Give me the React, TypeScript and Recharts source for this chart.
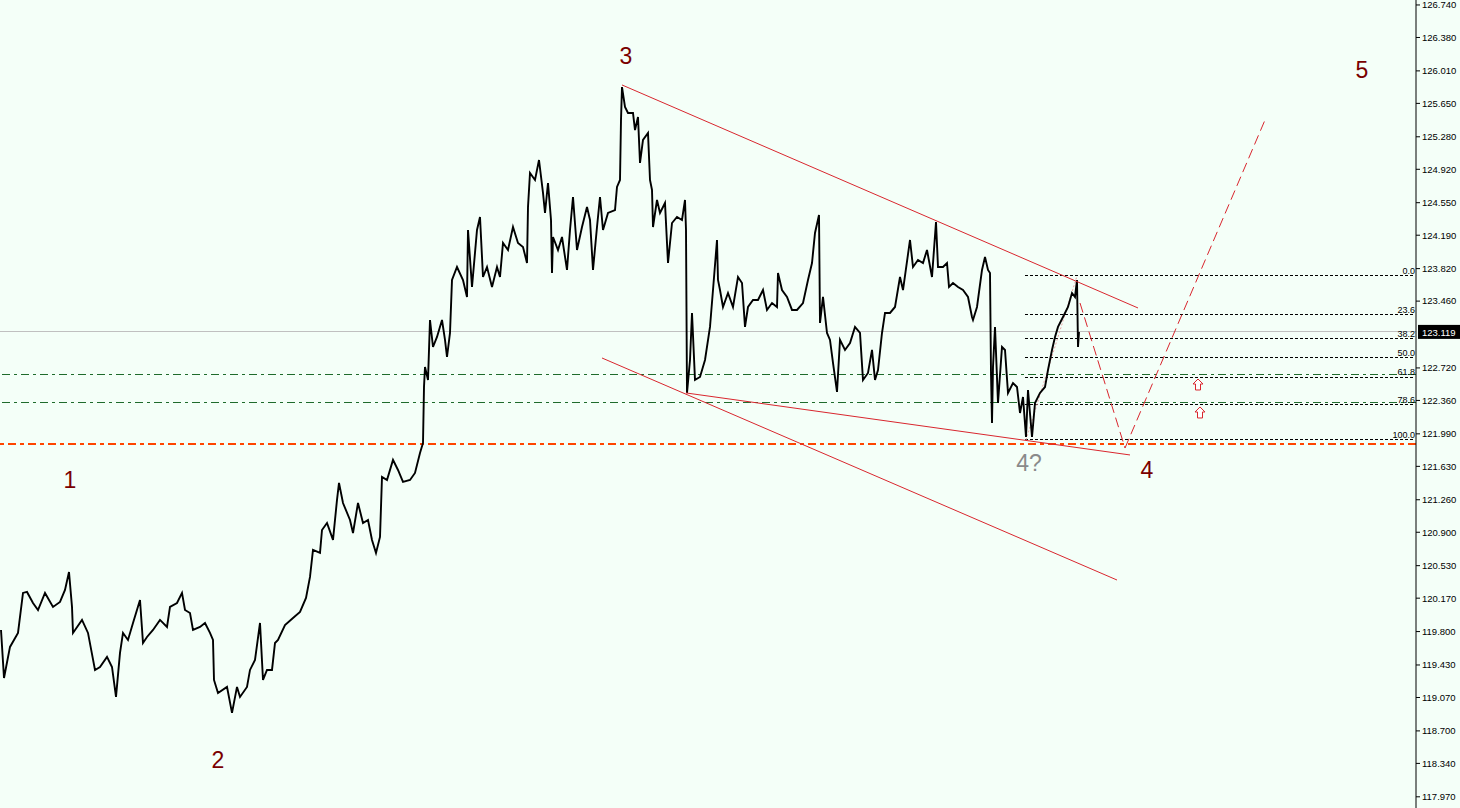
import React from "react";
import { ComposedChart, Line, XAxis, YAxis, ReferenceLine, ReferenceDot } from "recharts";

// [bar, price]
const priceSeries: [number, number][] = [
  [1, 119.818], [4, 119.286], [10, 119.63], [18, 119.785], [23, 120.228], [27, 120.239], [33, 120.117], [38, 120.039],
  [45, 120.228], [53, 120.073], [60, 120.128], [65, 120.261], [69, 120.46], [72, 120.073], [73, 119.785], [82, 119.929],
  [88, 119.785], [95, 119.375], [100, 119.408], [107, 119.519], [112, 119.408], [116, 119.076], [120, 119.563], [123, 119.785],
  [128, 119.707], [133, 119.895], [140, 120.15], [143, 119.674], [147, 119.74], [153, 119.818], [160, 119.929], [167, 119.851],
  [170, 120.073], [177, 120.117], [182, 120.228], [185, 120.039], [190, 120.006], [193, 119.818], [200, 119.851], [205, 119.895],
  [210, 119.785], [213, 119.707], [214, 119.264], [218, 119.12], [227, 119.187], [232, 118.899], [237, 119.187], [240, 119.076],
  [247, 119.187], [250, 119.375], [255, 119.486], [260, 119.895], [263, 119.264], [267, 119.375], [272, 119.375], [275, 119.674],
  [278, 119.707], [285, 119.873], [293, 119.951], [300, 120.017], [306, 120.172], [310, 120.405], [313, 120.704], [320, 120.671],
  [322, 120.925], [327, 121.003], [333, 120.815], [337, 121.258], [339, 121.446], [343, 121.224], [350, 121.036], [353, 120.892],
  [358, 121.224], [363, 121.003], [368, 121.036], [372, 120.815], [376, 120.671], [380, 120.848], [382, 121.512], [387, 121.479],
  [393, 121.701], [398, 121.59], [403, 121.457], [410, 121.479], [415, 121.557], [420, 121.778], [423, 121.889], [424, 122.509],
  [425, 122.731], [428, 122.587], [430, 123.251], [433, 122.952], [437, 123.063], [442, 123.251], [445, 123.03], [447, 122.841],
  [450, 123.107], [452, 123.694], [457, 123.838], [463, 123.694], [467, 123.506], [468, 124.248], [472, 123.617], [477, 124.248],
  [480, 124.392], [483, 123.727], [487, 123.838], [492, 123.617], [497, 123.838], [500, 123.727], [503, 124.104], [508, 124.026],
  [513, 124.281], [518, 124.104], [523, 124.06], [527, 123.882], [528, 124.503], [530, 124.879], [535, 124.802], [539, 125.023],
  [543, 124.658], [545, 124.436], [548, 124.768], [551, 124.359], [552, 123.772], [553, 124.17], [558, 124.026], [562, 124.17],
  [567, 123.805], [570, 124.248], [573, 124.613], [577, 124.026], [582, 124.281], [587, 124.503], [590, 124.359], [593, 123.805],
  [597, 124.281], [600, 124.613], [603, 124.248], [608, 124.436], [615, 124.469], [617, 124.724], [620, 124.802], [621, 125.466],
  [622, 125.831], [625, 125.61], [628, 125.544], [633, 125.544], [635, 125.355], [638, 125.499], [640, 124.99], [643, 125.245],
  [648, 125.322], [650, 124.802], [652, 124.691], [653, 124.281], [657, 124.58], [660, 124.436], [665, 124.547], [668, 123.882],
  [672, 124.325], [677, 124.392], [682, 124.359], [685, 124.58], [686, 124.248], [687, 122.443], [690, 122.808], [692, 123.329],
  [695, 122.587], [700, 122.62], [705, 122.808], [710, 123.174], [713, 123.583], [717, 124.137], [718, 123.694], [720, 123.583],
  [723, 123.395], [728, 123.55], [733, 123.395], [738, 123.727], [742, 123.661], [745, 123.174], [748, 123.395], [753, 123.473],
  [758, 123.473], [763, 123.583], [767, 123.362], [772, 123.439], [777, 123.395], [778, 123.772], [782, 123.583], [787, 123.506],
  [792, 123.362], [797, 123.362], [803, 123.439], [808, 123.694], [812, 123.882], [815, 124.215], [819, 124.414], [820, 123.218],
  [823, 123.506], [827, 123.107], [830, 123.03], [833, 122.775], [837, 122.454], [840, 123.03], [845, 122.919], [850, 122.996],
  [855, 123.174], [860, 123.107], [863, 122.587], [868, 122.664], [872, 122.919], [875, 122.587], [878, 122.697], [882, 123.107],
  [885, 123.329], [890, 123.329], [895, 123.395], [900, 123.727], [903, 123.583], [910, 124.137], [913, 123.838], [918, 123.916],
  [923, 123.882], [927, 124.026], [932, 123.727], [936, 124.336], [938, 123.838], [943, 123.838], [947, 123.882], [949, 123.617],
  [953, 123.661], [958, 123.617], [963, 123.583], [968, 123.506], [972, 123.284], [973, 123.251], [977, 123.395], [982, 123.805],
  [985, 123.949], [988, 123.805], [990, 123.772], [991, 122.664], [992, 122.11], [993, 122.731], [995, 123.174], [998, 122.332],
  [1002, 122.952], [1005, 122.919], [1008, 122.443], [1013, 122.553], [1017, 122.509], [1020, 122.221], [1023, 122.398], [1026, 121.955],
  [1028, 122.476], [1032, 121.955], [1035, 122.332], [1040, 122.443], [1045, 122.509], [1048, 122.697], [1052, 122.919], [1055, 123.063],
  [1058, 123.174], [1063, 123.284], [1068, 123.395], [1072, 123.55], [1075, 123.506], [1077, 123.694], [1078, 122.952], [1079, 123.119],
];

const yTicks = [
  126.74, 126.38, 126.01, 125.65, 125.28, 124.92, 124.55, 124.19, 123.82, 123.46, 122.72, 122.36,
  121.99, 121.63, 121.26, 120.9, 120.53, 120.17, 119.8, 119.43, 119.07, 118.7, 118.34, 117.97,
];
const priceMin = 117.846;
const priceMax = 126.795;
const lastBar = 1416;

const currentPrice = 123.119;
const greenLevels = [122.642, 122.332];
const supportLevel = 121.878;

const fibHigh = 123.739;
const fibLow = 121.922;
const fibRatios = [0, 23.6, 38.2, 50, 61.8, 78.6, 100];
const fibLabels = ["0.0", "23.6", "38.2", "50.0", "61.8", "78.6", "100.0"];
const fibStartBar = 1025;
const fibEndBar = 1415;
const fibSwing = [[1026, 121.922], [1077, 123.739]];

// channel lines: [bar1, price1, bar2, price2]
const channelLines = [
  [622, 125.854, 1138, 123.384],
  [686, 122.443, 1130, 121.756],
  [602, 122.83, 1117, 120.371],
];
const projection = [[1080, 123.439], [1125, 121.833], [1265, 125.466]];
const arrowMarks = [[1198, 122.531], [1200, 122.221]];

const waveLabels = [
  { text: "1", bar: 70, price: 121.479, color: "#7a0000" },
  { text: "2", bar: 218, price: 118.378, color: "#7a0000" },
  { text: "3", bar: 626, price: 126.175, color: "#7a0000" },
  { text: "4", bar: 1147, price: 121.59, color: "#7a0000" },
  { text: "5", bar: 1362, price: 126.02, color: "#7a0000" },
  { text: "4?", bar: 1029, price: 121.667, color: "#8a8a8a" },
];

const chartData = priceSeries.map(([bar, price]) => ({ bar, price }));
const RED = "#d9262e";
const FONT = "'Liberation Sans', Arial, sans-serif";

const FibLabel = (props: any) => {
  const { viewBox, text } = props;
  if (!viewBox) return null;
  return (
    <text x={viewBox.x + viewBox.width} y={viewBox.y - 2} textAnchor="end" fontSize={9} fontFamily={FONT} fill="#000">
      {text}
    </text>
  );
};

const PriceTag = (props: any) => {
  const { viewBox } = props;
  if (!viewBox) return null;
  const x = viewBox.x + viewBox.width;
  return (
    <g>
      <rect x={x + 2} y={viewBox.y - 7} width={42} height={14} fill="#000" />
      <text x={x + 6} y={viewBox.y + 4} fontSize={9.5} fontFamily={FONT} fill="#fff">
        {currentPrice.toFixed(3)}
      </text>
    </g>
  );
};

const UpArrow = (props: any) => {
  const { cx, cy } = props;
  const pts = [
    [cx, cy - 6], [cx + 5, cy - 1], [cx + 2.5, cy - 1], [cx + 2.5, cy + 5],
    [cx - 2.5, cy + 5], [cx - 2.5, cy - 1], [cx - 5, cy - 1],
  ].map((p) => p.join(",")).join(" ");
  return <polygon points={pts} fill="#fff" stroke={RED} strokeWidth={1} />;
};

const App = () => {
  return (
    <div style={{ position: "absolute", left: 0, top: 0, width: 1460, height: 808, background: "#f4fff8" }}>
      <ComposedChart width={1460} height={808} data={chartData} margin={{ top: 0, right: 0, bottom: 0, left: 0 }}>
        <XAxis type="number" dataKey="bar" domain={[0, lastBar]} hide allowDataOverflow />
        <YAxis
          orientation="right"
          width={44}
          domain={[priceMin, priceMax]}
          ticks={yTicks}
          tickFormatter={(v: number) => v.toFixed(3)}
          tick={{ fontSize: 9.5, fill: "#000", fontFamily: FONT }}
          tickSize={4}
          tickMargin={2}
          axisLine={{ stroke: "#000" }}
          tickLine={{ stroke: "#000" }}
          allowDataOverflow
          interval={0}
        />

        <ReferenceLine y={currentPrice} stroke="#c0c0c0" strokeWidth={1} shapeRendering="crispEdges" label={<PriceTag />} />
        {greenLevels.map((lvl) => (
          <ReferenceLine
            key={"g" + lvl}
            y={lvl}
            stroke="#1f6b2c"
            strokeWidth={1}
            strokeDasharray="8 4 3 4"
            shapeRendering="crispEdges"
          />
        ))}
        <ReferenceLine y={supportLevel} stroke="#ff4500" strokeWidth={2} strokeDasharray="8 4 4 4" shapeRendering="crispEdges" />

        {fibRatios.map((r, i) => {
          const lvl = fibHigh - ((fibHigh - fibLow) * r) / 100;
          return (
            <ReferenceLine
              key={"f" + r}
              segment={[{ x: fibStartBar, y: lvl }, { x: fibEndBar, y: lvl }]}
              stroke="#000"
              strokeWidth={1}
              strokeDasharray="3 2"
              shapeRendering="crispEdges"
              label={<FibLabel text={fibLabels[i]} />}
            />
          );
        })}
        <ReferenceLine
          segment={[{ x: fibSwing[0][0], y: fibSwing[0][1] }, { x: fibSwing[1][0], y: fibSwing[1][1] }]}
          stroke="#eaa6a6"
          strokeDasharray="2 2"
        />

        <Line
          dataKey="price"
          type="linear"
          stroke="#000"
          strokeWidth={1.9}
          dot={false}
          activeDot={false}
          isAnimationActive={false}
        />

        {channelLines.map((l, i) => (
          <ReferenceLine
            key={"c" + i}
            segment={[{ x: l[0], y: l[1] }, { x: l[2], y: l[3] }]}
            stroke={RED}
            strokeWidth={1}
          />
        ))}
        {projection.slice(1).map((p, i) => (
          <ReferenceLine
            key={"p" + i}
            segment={[{ x: projection[i][0], y: projection[i][1] }, { x: p[0], y: p[1] }]}
            stroke={RED}
            strokeWidth={1}
            strokeDasharray="10 5"
          />
        ))}

        {arrowMarks.map((a, i) => (
          <ReferenceDot key={"a" + i} x={a[0]} y={a[1]} r={5} shape={<UpArrow />} />
        ))}

        {waveLabels.map((w) => (
          <ReferenceDot
            key={"w" + w.text}
            x={w.bar}
            y={w.price}
            r={1}
            shape={(p: any) => (
              <text
                x={p.cx}
                y={p.cy}
                textAnchor="middle"
                dominantBaseline="central"
                fontSize={23}
                fontFamily={FONT}
                fill={w.color}
              >
                {w.text}
              </text>
            )}
          />
        ))}
      </ComposedChart>
    </div>
  );
};

export default App;
